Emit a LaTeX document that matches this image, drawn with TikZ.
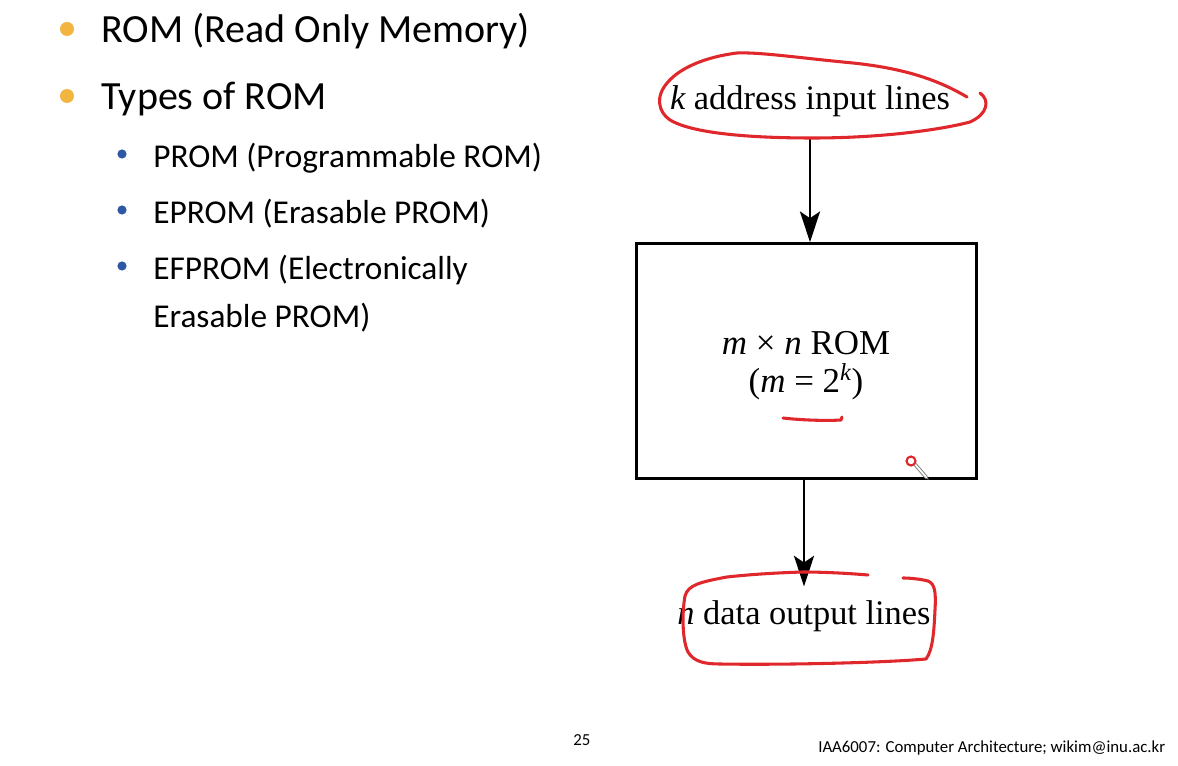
\documentclass[tikz,border=0pt]{standalone}
\usepackage{fontspec}
\setmainfont{Carlito}
\newfontfamily\bookserif{Liberation Serif}
\usetikzlibrary{arrows.meta}
\definecolor{bulletgold}{HTML}{F2B640}
\definecolor{bulletblue}{HTML}{2E58A6}
\definecolor{penred}{HTML}{E0282C}
\tikzset{
  toptext/.style={anchor=base west, inner sep=0pt, font=\fontsize{30}{34}\selectfont},
  subtext/.style={anchor=base west, inner sep=0pt, font=\fontsize{25}{29}\selectfont},
  figtext/.style={font=\bookserif\fontsize{25.8}{30}\selectfont, inner xsep=0pt},
  flow/.style={line width=2.2pt, -{Stealth[length=23pt, width=15pt, inset=5pt]}},
  pen/.style={penred, line width=2.3pt, line cap=round, line join=round},
  foot/.style={anchor=base west, inner sep=0pt, font=\fontsize{12.6}{15}\selectfont}
}
\begin{document}
\begin{tikzpicture}[x=0.75pt, y=-0.75pt]
\useasboundingbox (0,0) rectangle (1178,766);
\fill[white] (0,0) rectangle (1178,766);

% bullet list
\fill[bulletgold] (67,29) circle (7);
\fill[bulletgold] (67,96) circle (7);
\node[toptext] (rom1) at (101,43) {ROM (Read Only Memory)};
\node[toptext] (types) at (101,110) {Types of ROM};
\fill[bulletblue] (122,154) circle (4.6);
\fill[bulletblue] (122,210) circle (4.6);
\fill[bulletblue] (122,266) circle (4.6);
\node[subtext] (prom) at (153,168) {PROM (Programmable ROM)};
\node[subtext] (eprom) at (153,224) {EPROM (Erasable PROM)};
\node[subtext] (efprom) at (153,280) {EFPROM (Electronically};
\node[subtext] (efprom2) at (153,328) {Erasable PROM)};

% ROM block diagram
\node[figtext, anchor=base, inner ysep=15pt] (addr) at (810,110) {\itshape k\upshape\ address input lines};
\node[draw, line width=2.2pt, minimum width=255pt, minimum height=176pt] (rom) at (806.5,361) {};
% two-line label; the base anchor sits on the last line
\node[align=center, anchor=base, inner sep=0pt,
      font=\bookserif\fontsize{26.2}{28.5}\selectfont] (romlabel) at (806,393)
      {\itshape m\upshape\ × \itshape n\upshape\ ROM\\(\itshape m\upshape\ = 2\textsuperscript{\itshape k})};
\node[figtext, anchor=base, inner ysep=10pt] (data) at (804,624) {\itshape n\upshape\ data output lines};
\draw[flow] (addr.south) -- (addr.south |- rom.north);
\draw[flow] (data.north |- rom.south) -- (data.north);

% pen annotations
\draw[pen] (967,97) .. controls (935,78) and (900,68) .. (853,63)
  .. controls (800,58) and (760,52) .. (737,53)
  .. controls (705,57) and (680,68) .. (668,82)
  .. controls (655,96) and (658,112) .. (670,120)
  .. controls (690,132) and (740,138) .. (813,138)
  .. controls (880,138) and (940,130) .. (970,122)
  .. controls (988,114) and (990,100) .. (980,93);
\draw[pen] (783,418) .. controls (800,420) and (825,421) .. (841,420) -- (842,417);
\draw[pen] (868,575) .. controls (845,573) and (820,572) .. (803,572)
  .. controls (770,573) and (745,575) .. (727,577)
  .. controls (700,582) and (688,585) .. (685,596)
  .. controls (682,612) and (682,640) .. (688,652)
  .. controls (694,662) and (705,664) .. (720,664)
  .. controls (780,665) and (880,663) .. (926,659)
  .. controls (933,650) and (934,630) .. (935,610)
  .. controls (936,592) and (935,584) .. (928,581)
  .. controls (920,579) and (910,578) .. (903,578);

% pointer
\draw[gray, fill=white, line width=0.6pt] (912,463) -- (925,478) -- (928,479) -- (927,476) -- (914,461) -- cycle;
\draw[penred, line width=1.6pt, fill=white] (911,461) circle (4.5);

% footer
\node[foot] (page) at (573,745) {25};
\node[foot] (credit) at (818,752) {IAA6007: Computer Architecture; wikim@inu.ac.kr};
\end{tikzpicture}
\end{document}
